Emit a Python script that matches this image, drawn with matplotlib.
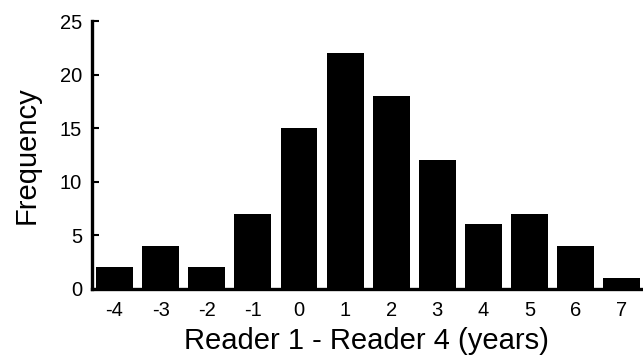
import matplotlib
matplotlib.use("Agg")
import matplotlib.pyplot as plt

diffs = [-4, -3, -2, -1, 0, 1, 2, 3, 4, 5, 6, 7]
freq = [2, 4, 2, 7, 15, 22, 18, 12, 6, 7, 4, 1]
yticks = [0, 5, 10, 15, 20, 25]

plt.rcParams['font.family'] = ['Liberation Sans', 'DejaVu Sans']
fig = plt.figure(figsize=(6.43, 3.59), dpi=100)
ax = fig.add_axes([0.143, 0.196, 0.854, 0.7455])
ax.bar(diffs, freq, width=0.8, color='black')
ax.set_xlim(-4.49, 7.42)
ax.set_ylim(0, 25)
ax.set_yticks(yticks)
ax.set_xticks(diffs)
ax.set_xticklabels([str(d) for d in diffs])
for s in ['top', 'right']:
    ax.spines[s].set_visible(False)
for s in ['left', 'bottom']:
    ax.spines[s].set_linewidth(2.4)
ax.tick_params(axis='y', direction='in', length=5, width=1.5, labelsize=14.5, pad=7)
ax.tick_params(axis='x', length=0, labelsize=14.5, pad=9)
ax.set_xlabel('Reader 1 - Reader 4 (years)', fontsize=21, labelpad=5)
ax.set_ylabel('Frequency', fontsize=21, labelpad=14)
fig.savefig('out.png', dpi=100)
